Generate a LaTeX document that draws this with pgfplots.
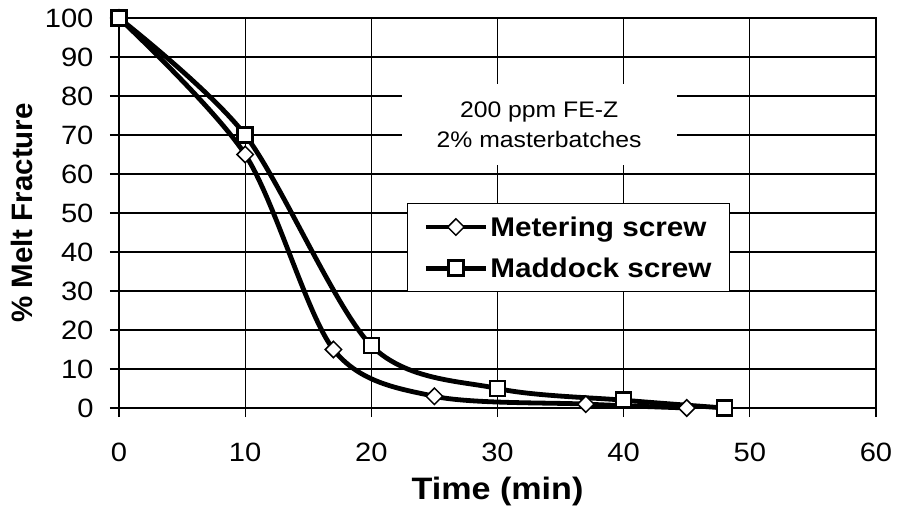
\documentclass[border=0pt]{standalone}
\usepackage{pgfplots}
\pgfplotsset{compat=1.18}
\usepackage{fontspec}
\setmainfont{Liberation Sans}[FakeStretch=1.1]
\newfontfamily\ylabfont{Liberation Sans}
\begin{document}
\begin{tikzpicture}[x=1pt,y=1pt]
\begin{axis}[
  at={(119pt,104pt)}, anchor=south west,
  scale only axis, width=757pt, height=390pt,
  xmin=0, xmax=60, ymin=0, ymax=100,
  xtick={0,10,...,60}, ytick={0,10,...,100},
  grid=major, major grid style={black, line width=1.1pt},
  axis line style={black, line width=1.1pt},
  tick style={black, line width=1.1pt},
  tick align=outside, major tick length=9pt,
  tick pos=left,
  /pgf/number format/assume math mode=true,
  ticklabel style={font=\fontsize{26.5}{30}\selectfont},
  yticklabel style={xshift=-13pt},
  xticklabel style={yshift=-22pt},
  xlabel={Time (min)},
  xlabel style={font=\bfseries\fontsize{31}{34}\selectfont, at={(axis description cs:0.5,-0.215)}, anchor=center},
  ylabel={\% Melt Fracture},
  ylabel style={font=\ylabfont\bfseries\fontsize{29.5}{32}\selectfont, at={(axis description cs:-0.128,0.5)}, anchor=center},
  legend style={at={(axis description cs:0.3805,0.5256)}, anchor=north west, draw=black, line width=1pt, fill=white,
    font=\bfseries\fontsize{27}{30}\selectfont, inner xsep=16pt, inner ysep=11pt, row sep=16pt},
  legend cell align=left,
  legend image code/.code={\draw[mark repeat=2,mark phase=2] plot coordinates {(0pt,0pt) (30pt,0pt) (60pt,0pt)};},
  clip=false,
]
\addplot[black, line width=4.8pt, smooth, mark=square*, mark size=5.8pt,
  mark options={fill=white, draw=black, line width=1.5pt, rotate=45, solid}]
  coordinates {(0,100) (10,65) (17,15) (25,3) (37,1) (45,0)};
\addlegendentry{Metering screw}
\addplot[black, line width=4.8pt, smooth, mark=square*, mark size=7.5pt,
  mark options={fill=white, draw=black, line width=2.5pt, solid}]
  coordinates {(0,100) (10,70) (20,16) (30,5) (40,2) (48,0)};
\addlegendentry{Maddock screw}
\node[fill=white, minimum width=275pt, minimum height=81pt, align=center,
  font=\fontsize{22.5}{30}\selectfont, inner sep=0pt] at (axis cs:33.3,72.7)
  {200 ppm FE-Z\\2\% masterbatches};
\end{axis}
\pgfresetboundingbox
\path (0,0) rectangle (897,512);
\end{tikzpicture}
\end{document}
